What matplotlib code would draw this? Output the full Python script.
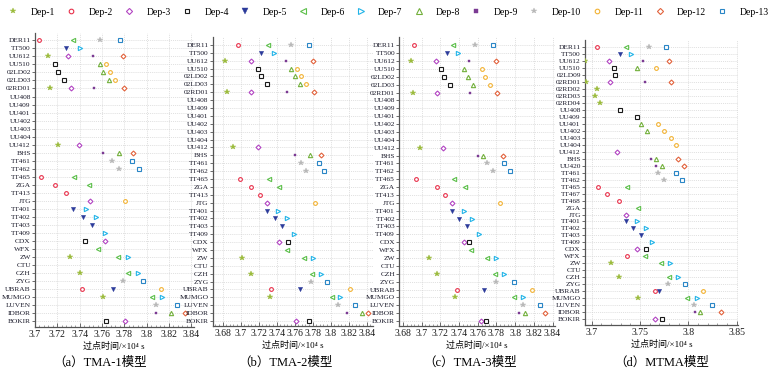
import matplotlib.pyplot as plt
from matplotlib.lines import Line2D
from matplotlib.ticker import MultipleLocator, AutoMinorLocator, FuncFormatter

plt.rcParams['font.family'] = ['Liberation Serif', 'DejaVu Serif', 'Noto Sans CJK SC']

# 航路点（a/b/c 三个模型相同）
cats_abc = ['DER11', 'TT500', 'UU612', 'UU510', '02LD02', '02LD03', '02RD01',
            'UU408', 'UU409', 'UU401', 'UU402', 'UU403', 'UU404', 'UU412',
            'BHS', 'TT461', 'TT462', 'TT465', 'ZGA', 'TT413', 'JTG', 'TT401',
            'TT402', 'TT403', 'TT409', 'CDX', 'WFX', 'ZW', 'CTU', 'CZH', 'ZYG',
            'UBRAB', 'MUMGO', 'LUVEN', 'IDBOR', 'BOKIR']
cats_d = ['DER11', 'TT500', 'UU612', 'UU510', '02LD09', '02RD01', '02RD02',
          '02RD03', '02RD04', 'UU408', 'UU409', 'UU401', 'UU402', 'UU403',
          'UU404', 'UU412', 'BHS', 'UU420', 'TT461', 'TT462', 'TT465', 'TT467',
          'TT468', 'ZGA', 'JTG', 'TT401', 'TT402', 'TT403', 'TT409', 'CDX',
          'WFX', 'ZW', 'CTU', 'CZH', 'ZYG', 'UBRAB', 'MUMGO', 'LUVEN', 'IDBOR',
          'BOKIR']

deps = ['Dep-%d' % i for i in range(1, 14)]

# (a) TMA-1 过点时间 (×10^4 s)
a_dep1 = {'UU612': 3.712, '02RD01': 3.713, 'UU412': 3.721, 'ZW': 3.731, 'CZH': 3.740, 'MUMGO': 3.761}
a_dep2 = {'DER11': 3.704, 'TT465': 3.705, 'ZGA': 3.718, 'TT413': 3.728, 'UBRAB': 3.742}
a_dep3 = {'UU612': 3.730, '02RD01': 3.732, 'UU412': 3.739, 'JTG': 3.749, 'CDX': 3.763, 'BOKIR': 3.781}
a_dep4 = {'UU510': 3.718, '02LD02': 3.721, '02LD03': 3.726, 'CDX': 3.745, 'BOKIR': 3.764}
a_dep5 = {'TT500': 3.728, 'TT401': 3.734, 'TT402': 3.743, 'TT403': 3.751, 'UBRAB': 3.770}
a_dep6 = {'DER11': 3.734, 'TT465': 3.735, 'ZGA': 3.748, 'WFX': 3.756, 'ZW': 3.774, 'CZH': 3.783, 'MUMGO': 3.805}
a_dep7 = {'TT500': 3.740, 'TT401': 3.746, 'TT402': 3.755, 'TT409': 3.763, 'ZW': 3.783, 'CZH': 3.792, 'MUMGO': 3.814}
a_dep8 = {'UU510': 3.758, '02LD02': 3.761, '02LD03': 3.766, 'BHS': 3.775, 'IDBOR': 3.822}
a_dep9 = {'UU612': 3.752, '02RD01': 3.753, 'BHS': 3.761, 'IDBOR': 3.808}
a_dep10 = {'DER11': 3.758, 'TT461': 3.769, 'TT462': 3.775, 'ZYG': 3.779, 'LUVEN': 3.808}
a_dep11 = {'UU510': 3.764, '02LD02': 3.767, '02LD03': 3.772, 'JTG': 3.781, 'UBRAB': 3.813}
a_dep12 = {'UU612': 3.779, '02RD01': 3.780, 'BHS': 3.788, 'IDBOR': 3.834}
a_dep13 = {'DER11': 3.776, 'TT461': 3.787, 'TT462': 3.793, 'ZYG': 3.797, 'LUVEN': 3.827}

# (b) TMA-2
b_dep1 = {'UU612': 3.683, '02RD01': 3.685, 'UU412': 3.692, 'ZW': 3.702, 'CZH': 3.712, 'MUMGO': 3.733}
b_dep2 = {'DER11': 3.697, 'TT465': 3.699, 'ZGA': 3.711, 'TT413': 3.721, 'UBRAB': 3.734}
b_dep3 = {'UU612': 3.711, '02RD01': 3.712, 'UU412': 3.719, 'JTG': 3.729, 'CDX': 3.743, 'BOKIR': 3.762}
b_dep4 = {'UU510': 3.719, '02LD02': 3.723, '02LD03': 3.729, 'CDX': 3.753, 'BOKIR': 3.776}
b_dep5 = {'TT500': 3.723, 'TT401': 3.729, 'TT402': 3.738, 'TT403': 3.746, 'UBRAB': 3.766}
b_dep6 = {'DER11': 3.730, 'TT465': 3.732, 'ZGA': 3.743, 'WFX': 3.752, 'ZW': 3.770, 'CZH': 3.779, 'MUMGO': 3.801}
b_dep7 = {'TT500': 3.737, 'TT401': 3.742, 'TT402': 3.751, 'TT409': 3.759, 'ZW': 3.780, 'CZH': 3.789, 'MUMGO': 3.810}
b_dep8 = {'UU510': 3.756, '02LD02': 3.760, '02LD03': 3.766, 'BHS': 3.777, 'IDBOR': 3.835}
b_dep9 = {'UU612': 3.750, '02RD01': 3.751, 'BHS': 3.760, 'IDBOR': 3.818}
b_dep10 = {'DER11': 3.756, 'TT461': 3.767, 'TT462': 3.773, 'ZYG': 3.778, 'LUVEN': 3.808}
b_dep11 = {'UU510': 3.763, '02LD02': 3.767, '02LD03': 3.773, 'JTG': 3.783, 'UBRAB': 3.821}
b_dep12 = {'UU612': 3.780, '02RD01': 3.781, 'BHS': 3.789, 'IDBOR': 3.842}
b_dep13 = {'DER11': 3.776, 'TT461': 3.787, 'TT462': 3.793, 'ZYG': 3.796, 'LUVEN': 3.827}

# (c) TMA-3
c_dep1 = {'UU612': 3.689, '02RD01': 3.691, 'UU412': 3.698, 'ZW': 3.708, 'CZH': 3.716, 'MUMGO': 3.736}
c_dep2 = {'DER11': 3.692, 'TT465': 3.694, 'ZGA': 3.716, 'TT413': 3.725, 'UBRAB': 3.738}
c_dep3 = {'UU612': 3.715, '02RD01': 3.716, 'UU412': 3.723, 'JTG': 3.732, 'CDX': 3.745, 'BOKIR': 3.763}
c_dep4 = {'UU510': 3.721, '02LD02': 3.724, '02LD03': 3.730, 'CDX': 3.751, 'BOKIR': 3.769}
c_dep5 = {'TT500': 3.727, 'TT401': 3.732, 'TT402': 3.740, 'TT403': 3.748, 'UBRAB': 3.767}
c_dep6 = {'DER11': 3.733, 'TT465': 3.735, 'ZGA': 3.746, 'WFX': 3.753, 'ZW': 3.770, 'CZH': 3.778, 'MUMGO': 3.799}
c_dep7 = {'TT500': 3.739, 'TT401': 3.745, 'TT402': 3.754, 'TT409': 3.761, 'ZW': 3.780, 'CZH': 3.788, 'MUMGO': 3.808}
c_dep8 = {'UU510': 3.745, '02LD02': 3.749, '02LD03': 3.755, 'BHS': 3.766, 'IDBOR': 3.810}
c_dep9 = {'UU612': 3.751, '02RD01': 3.752, 'BHS': 3.760, 'IDBOR': 3.804}
c_dep10 = {'DER11': 3.757, 'TT461': 3.770, 'TT462': 3.776, 'ZYG': 3.780, 'LUVEN': 3.808}
c_dep11 = {'UU510': 3.764, '02LD02': 3.768, '02LD03': 3.773, 'JTG': 3.784, 'UBRAB': 3.818}
c_dep12 = {'UU612': 3.780, '02RD01': 3.781, 'BHS': 3.787, 'IDBOR': 3.832}
c_dep13 = {'DER11': 3.776, 'TT461': 3.788, 'TT462': 3.794, 'ZYG': 3.799, 'LUVEN': 3.827}

# (d) MTMA
d_dep1 = {'UU612': 3.693, '02RD01': 3.694, '02RD02': 3.706, '02RD03': 3.703, '02RD04': 3.709,
          'ZW': 3.720, 'CZH': 3.728, 'MUMGO': 3.748}
d_dep2 = {'DER11': 3.705, 'TT465': 3.707, 'TT467': 3.716, 'TT468': 3.728, 'WFX': 3.737, 'UBRAB': 3.765}
d_dep3 = {'UU612': 3.718, '02RD01': 3.719, 'UU412': 3.726, 'JTG': 3.735, 'CDX': 3.747, 'BOKIR': 3.765}
d_dep4 = {'UU510': 3.723, '02LD09': 3.724, 'UU408': 3.729, 'UU409': 3.747, 'CDX': 3.756, 'BOKIR': 3.773}
d_dep5 = {'TT500': 3.729, 'TT401': 3.735, 'TT402': 3.743, 'TT403': 3.751, 'UBRAB': 3.770}
d_dep6 = {'DER11': 3.735, 'TT465': 3.737, 'ZGA': 3.748, 'WFX': 3.755, 'ZW': 3.772, 'CZH': 3.780, 'MUMGO': 3.799}
d_dep7 = {'TT500': 3.741, 'TT401': 3.747, 'TT402': 3.756, 'TT409': 3.762, 'ZW': 3.781, 'CZH': 3.789, 'MUMGO': 3.809}
d_dep8 = {'UU510': 3.747, 'UU401': 3.751, 'UU402': 3.757, 'BHS': 3.767, 'UU420': 3.773, 'IDBOR': 3.812}
d_dep9 = {'UU612': 3.753, '02RD01': 3.755, 'BHS': 3.761, 'UU420': 3.767, 'IDBOR': 3.807}
d_dep10 = {'DER11': 3.759, 'TT461': 3.769, 'TT462': 3.775, 'ZYG': 3.779, 'LUVEN': 3.806}
d_dep11 = {'UU510': 3.766, 'UU401': 3.769, 'UU402': 3.775, 'UU403': 3.782, 'UU404': 3.787, 'UBRAB': 3.815}
d_dep12 = {'UU612': 3.780, '02RD01': 3.782, 'BHS': 3.789, 'UU420': 3.795, 'IDBOR': 3.834}
d_dep13 = {'DER11': 3.777, 'TT461': 3.787, 'TT462': 3.793, 'ZYG': 3.797, 'LUVEN': 3.824}

# 样式
markers = ['*', 'o', 'D', 's', 'v', '<', '>', '^', 's', '*', 'o', 'D', 's']
colors = ['#9bbb3c', '#e8314b', '#b245c2', '#1a1a1a', '#2b3a9a', '#5cbf4a', '#22b4e8',
          '#73b03c', '#7b3a93', '#b8b8b8', '#f2b233', '#e2623c', '#2a86c6']
hollow = [False, True, True, True, False, True, True, True, False, False, True, True, True]
msizes = [3.8, 2.7, 2.5, 2.3, 3.1, 3.1, 3.1, 3.1, 1.9, 3.8, 2.7, 2.5, 2.3]

W, H = 782, 376
panels = [
    dict(cats=cats_abc, data=[a_dep1, a_dep2, a_dep3, a_dep4, a_dep5, a_dep6, a_dep7,
                              a_dep8, a_dep9, a_dep10, a_dep11, a_dep12, a_dep13],
         box=(35, 193.5, 33, 327), xlim=(3.7, 3.842), ylim=(35.71, -0.91), step=0.02,
         cap='（a）TMA-1模型', capx=100),
    dict(cats=cats_abc, data=[b_dep1, b_dep2, b_dep3, b_dep4, b_dep5, b_dep6, b_dep7,
                              b_dep8, b_dep9, b_dep10, b_dep11, b_dep12, b_dep13],
         box=(212.7, 373, 37, 326), xlim=(3.669, 3.847), ylim=(35.63, -1.0), step=0.02,
         cap='（b）TMA-2模型', capx=285),
    dict(cats=cats_abc, data=[c_dep1, c_dep2, c_dep3, c_dep4, c_dep5, c_dep6, c_dep7,
                              c_dep8, c_dep9, c_dep10, c_dep11, c_dep12, c_dep13],
         box=(399.3, 555, 36.7, 326), xlim=(3.676, 3.8426), ylim=(35.63, -1.09), step=0.02,
         cap='（c）TMA-3模型', capx=470),
    dict(cats=cats_d, data=[d_dep1, d_dep2, d_dep3, d_dep4, d_dep5, d_dep6, d_dep7,
                            d_dep8, d_dep9, d_dep10, d_dep11, d_dep12, d_dep13],
         box=(585, 738, 40, 325), xlim=(3.6931, 3.8513), ylim=(39.86, -1.05), step=0.05,
         cap='（d）MTMA模型', capx=662),
]

fmt = FuncFormatter(lambda v, p: ('%.2f' % v).rstrip('0').rstrip('.'))

fig = plt.figure(figsize=(W / 100, H / 100), dpi=100)

for p in panels:
    l, r, t, b = p['box']
    ax = fig.add_axes([l / W, 1 - b / H, (r - l) / W, (b - t) / H])
    cats = p['cats']
    for i, series in enumerate(p['data']):
        ys = [cats.index(k) for k in series]
        xs = list(series.values())
        ax.plot(xs, ys, linestyle='none', marker=markers[i], color=colors[i],
                markersize=msizes[i], markeredgewidth=0.8 if hollow[i] else 0.3,
                markerfacecolor='white' if hollow[i] else colors[i], zorder=3)
    ax.set_yticks(range(len(cats)))
    ax.set_yticklabels(cats)
    ax.set_xlim(*p['xlim'])
    ax.set_ylim(*p['ylim'])
    ax.xaxis.set_major_locator(MultipleLocator(p['step']))
    ax.xaxis.set_minor_locator(AutoMinorLocator(5))
    ax.xaxis.set_major_formatter(fmt)
    ax.grid(True, which='major', linestyle=(0, (1.5, 1.5)), color='#d4d4d4', linewidth=0.5)
    ax.spines['top'].set_visible(False)
    ax.spines['right'].set_visible(False)
    for s in ['left', 'bottom']:
        ax.spines[s].set_color('#555555')
        ax.spines[s].set_linewidth(0.9)
    ax.tick_params(axis='y', direction='out', length=2, width=0.6, labelsize=5.3,
                   pad=1, colors='#555555', labelcolor='#1a1a2a')
    ax.tick_params(axis='x', which='major', direction='in', length=3, width=0.6,
                   labelsize=7, pad=2.5, colors='#555555', labelcolor='#1a1a1a')
    ax.tick_params(axis='x', which='minor', direction='in', length=1.5, width=0.5,
                   colors='#777777')
    ax.set_xlabel('过点时间/×10⁴ s', fontsize=6.5, labelpad=1.5)
    fig.text(p['capx'] / W, 1 - 363 / H, p['cap'], fontsize=9, ha='center', va='center')

handles = [Line2D([], [], linestyle='none', marker=markers[i], color=colors[i],
                  markersize=msizes[i] + 0.6, markeredgewidth=0.8 if hollow[i] else 0.3,
                  markerfacecolor='white' if hollow[i] else colors[i])
           for i in range(len(deps))]
fig.legend(handles, deps, ncol=13, loc='upper center', bbox_to_anchor=(0.497, 0.995),
           frameon=False, fontsize=7, handlelength=1.0, handletextpad=1.3,
           columnspacing=1.15, borderaxespad=0.2)

fig.savefig('out.png', dpi=100)
